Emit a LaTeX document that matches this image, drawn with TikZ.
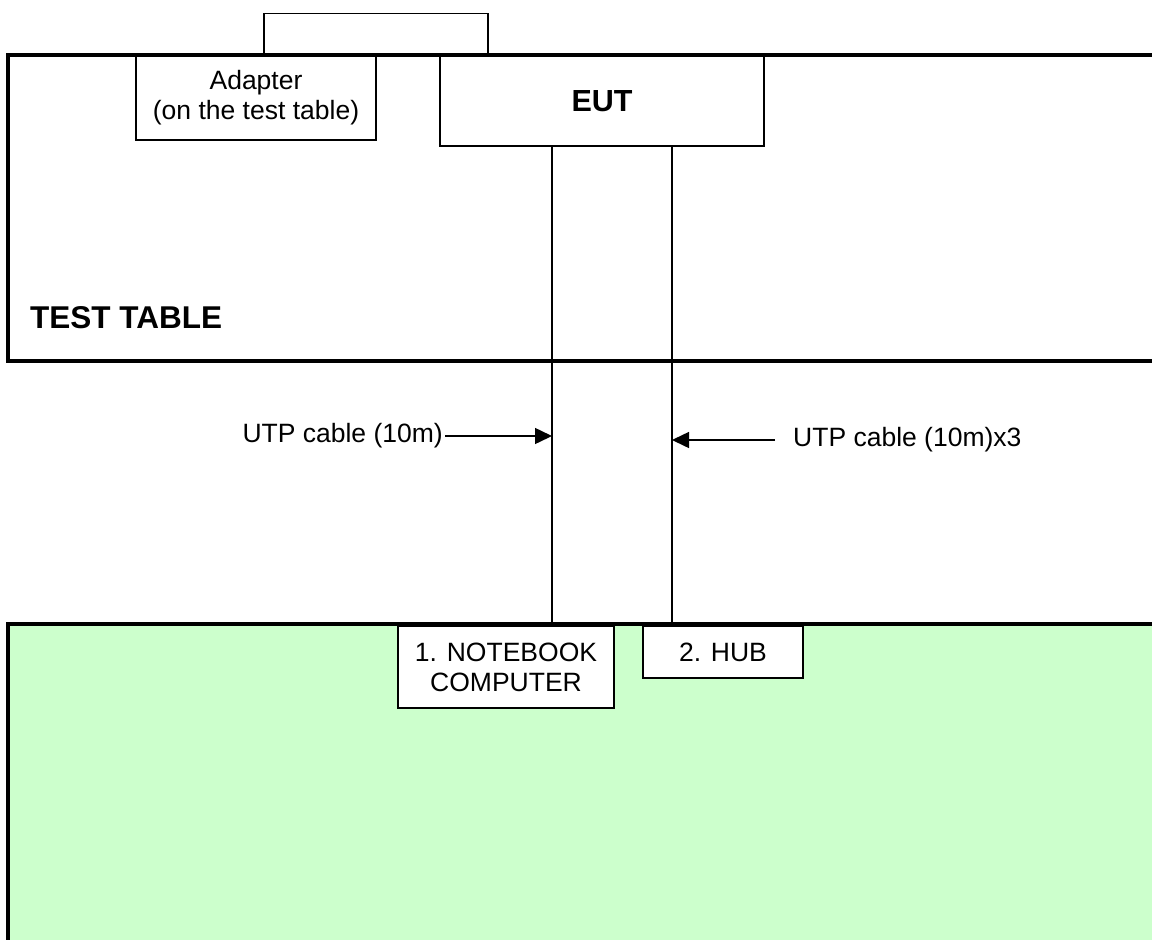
\documentclass[tikz,border=0pt]{standalone}
\usepackage{fontspec}
\setmainfont{Liberation Sans}
\usetikzlibrary{arrows.meta}
\definecolor{floorgreen}{RGB}{204,255,204}
\tikzset{
  thin box/.style={draw=black, line width=1.5pt, fill=white, inner sep=0pt, align=center,
    font=\fontsize{26.5}{30}\selectfont},
  thick edge/.style={line width=4pt},
  cable/.style={draw=black, line width=1.5pt},
  lbl/.style={inner sep=0pt, font=\fontsize{26.5}{30}\selectfont},
  pointer/.style={line width=1.5pt, -{Triangle[length=17pt,width=16pt]}}
}
\begin{document}
\begin{tikzpicture}[x=1pt,y=-1pt]
\useasboundingbox (0,0) rectangle (1152,940);
\begin{scope}
\clip (0,0) rectangle (1152,940);
% test table
\draw[thick edge] (1170,55) -- (7.5,55) -- (7.5,361) -- (1170,361);
% floor area
\fill[floorgreen] (7.5,624) rectangle (1170,960);
\draw[thick edge] (1170,624) -- (7.5,624) -- (7.5,960);
\end{scope}
% adapter plug on top
\draw[line width=1.5pt] (264,55) -- (264,13.5) -- (488,13.5) -- (488,55);
% boxes
\node[thin box, minimum width=240pt, minimum height=84pt] (adp) at (256,98) {Adapter\\(on the test table)};
\node[thin box, minimum width=324pt, minimum height=90pt, font=\fontsize{30.5}{34}\selectfont\bfseries] (eut) at (602,101) {EUT};
\node[thin box, minimum width=216pt, minimum height=82pt] (nb) at (506,667) {1. NOTEBOOK\\COMPUTER};
\node[thin box, minimum width=160pt, minimum height=52pt] (hub) at (723,652) {2. HUB};
\node[inner sep=0pt, anchor=base west, font=\fontsize{31.5}{35}\selectfont\bfseries] (tt) at (30,328) {TEST TABLE};
% cables
\coordinate (c1top) at (552,146);
\coordinate (c1bot) at (552,624);
\coordinate (c2top) at (672,146);
\coordinate (c2bot) at (672,624);
\draw[cable] (eut.south -| c1top) -- (c1bot);
\draw[cable] (eut.south -| c2top) -- (c2bot);
% labels
\node[lbl, anchor=east] (l1) at (443,436) {UTP cable (10m)};
\node[lbl, anchor=west] (l2) at (793,440) {UTP cable (10m)x3};
\coordinate (a1) at (552,436);
\coordinate (s2) at (775,440);
\coordinate (a2) at (672,440);
\draw[pointer] ([xshift=2pt]l1.east) -- (a1);
\draw[pointer] (s2) -- (a2);
\end{tikzpicture}
\end{document}
